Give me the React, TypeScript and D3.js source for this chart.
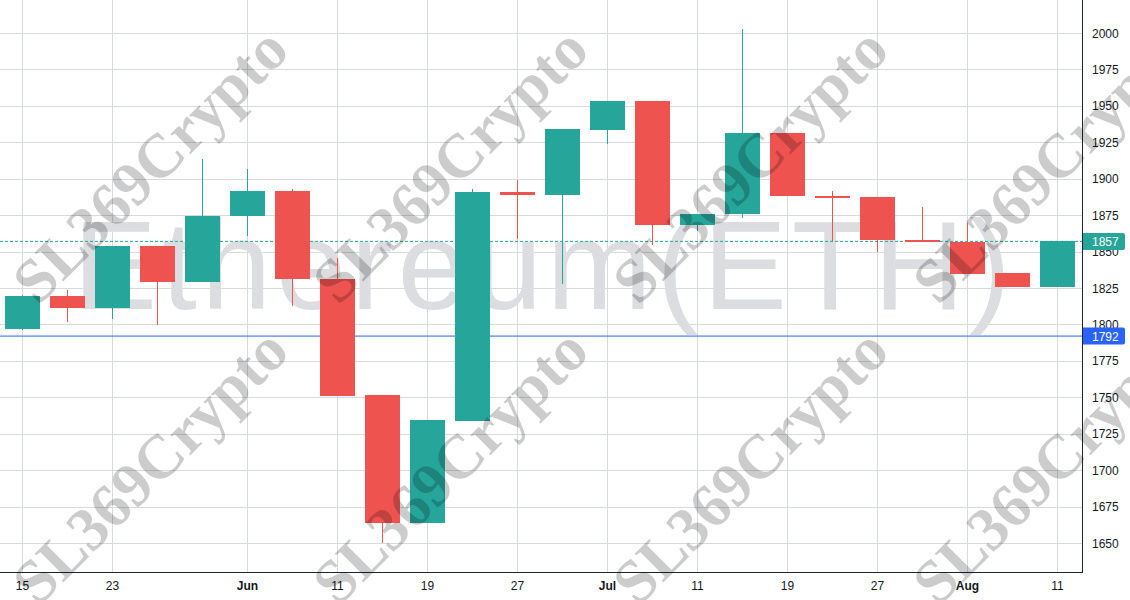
import React from "react";
import * as d3 from "d3";

const opens = [1797.1, 1819.5, 1811.5, 1853.8, 1829.3, 1874.4, 1891.6, 1831.4, 1751.5, 1663.7, 1734.0, 1890.9, 1889.0, 1933.4, 1953.3, 1868.2, 1875.8, 1931.4, 1888.3, 1887.4, 1858.1, 1856.8, 1835.0, 1825.9];
const highs = [1820.0, 1823.6, 1854.0, 1854.0, 1913.5, 1906.7, 1892.9, 1845.4, 1751.5, 1734.4, 1892.9, 1899.1, 1934.1, 1953.3, 1953.3, 1875.8, 2002.5, 1931.4, 1891.6, 1887.4, 1880.6, 1869.6, 1835.0, 1857.0];
const lows = [1796.0, 1801.9, 1803.7, 1799.8, 1829.3, 1860.7, 1812.8, 1751.1, 1649.8, 1663.7, 1734.0, 1858.6, 1827.9, 1924.0, 1854.7, 1864.3, 1872.8, 1888.3, 1857.4, 1849.9, 1856.8, 1834.8, 1825.9, 1825.9];
const closes = [1819.5, 1811.5, 1853.8, 1829.3, 1874.4, 1891.6, 1831.4, 1751.1, 1663.7, 1734.4, 1890.9, 1889.0, 1934.1, 1953.3, 1868.2, 1875.8, 1931.4, 1888.3, 1887.0, 1858.1, 1856.8, 1834.8, 1825.9, 1857.0];

const tickIndex = [0, 2, 5, 7, 9, 11, 13, 15, 17, 19, 21, 23];
const tickLabels = ["15", "23", "Jun", "11", "19", "27", "Jul", "11", "19", "27", "Aug", "11"];
const monthLabels = ["Jun", "Jul", "Aug"];
const yTicks = [1650, 1675, 1700, 1725, 1750, 1775, 1800, 1825, 1850, 1875, 1900, 1925, 1950, 1975, 2000];
const lastPrice = 1857;
const markerPrice = 1792;
const titleText = "Ethereum(ETH)";
const watermarkText = "SL369Crypto";
const wmCols = [150, 450, 750, 1050];
const wmRows = [165, 466];

const W = 1130;
const H = 600;
const PW = 1082;
const PH = 572;
const UP = "#26a69a";
const DOWN = "#ef5350";
const GRID = "#d8dbde";
const TEXT = "#131722";
const FONT = "'Liberation Sans', Arial, sans-serif";

export default function App() {
  const x = d3.scaleLinear().domain([0, 23]).range([22.5, 1057.5]);
  const y = d3.scaleLinear().domain([1630.1, 2022.65]).range([PH, 0]);
  const bw = 35;

  return (
    <svg width={W} height={H} style={{ position: "absolute", left: 0, top: 0, background: "#fff" }}>
      <rect x={0} y={0} width={W} height={H} fill="#fff" />
      <g shapeRendering="crispEdges">
        {yTicks.map((t) => (
          <line key={"h" + t} x1={0} x2={PW} y1={Math.round(y(t)) + 0.5} y2={Math.round(y(t)) + 0.5} stroke={GRID} />
        ))}
        {tickIndex.map((i) => (
          <line key={"v" + i} x1={Math.floor(x(i)) + 0.5} x2={Math.floor(x(i)) + 0.5} y1={0} y2={PH} stroke={GRID} />
        ))}
      </g>
      <text
        x={PW / 2 + 1}
        y={309}
        textAnchor="middle"
        fontFamily={FONT}
        fontSize={126}
        fill="#dcdde0"
        textLength={938}
        lengthAdjust="spacing"
      >
        {titleText}
      </text>
      <line x1={0} x2={PW} y1={y(lastPrice)} y2={y(lastPrice)} stroke={UP} strokeDasharray="3 2" />
      <line x1={0} x2={PW} y1={y(markerPrice)} y2={y(markerPrice)} stroke="#2962ff" />
      <g shapeRendering="crispEdges">
        {opens.map((o, i) => {
          const c = closes[i];
          const col = c >= o ? UP : DOWN;
          const cx = Math.floor(x(i));
          const top = y(Math.max(o, c));
          const bot = y(Math.min(o, c));
          return (
            <g key={i}>
              <rect x={cx} y={y(highs[i])} width={1} height={Math.max(0, y(lows[i]) - y(highs[i]))} fill={col} />
              <rect x={x(i) - bw / 2} y={top} width={bw} height={Math.max(2.5, bot - top)} fill={col} />
            </g>
          );
        })}
      </g>
      <line x1={PW + 0.5} x2={PW + 0.5} y1={0} y2={PH} stroke="#1e2233" shapeRendering="crispEdges" />
      <line x1={0} x2={PW + 0.5} y1={PH + 0.5} y2={PH + 0.5} stroke="#1e2233" shapeRendering="crispEdges" />
      {yTicks.map((t) => (
        <text key={"yl" + t} x={1092} y={y(t) + 4.5} fontFamily={FONT} fontSize={12} fill={TEXT}>
          {t}
        </text>
      ))}
      {tickIndex.map((i, k) => (
        <text
          key={"xl" + k}
          x={x(i)}
          y={590}
          textAnchor="middle"
          fontFamily={FONT}
          fontSize={12}
          fontWeight={monthLabels.includes(tickLabels[k]) ? "bold" : "normal"}
          fill={TEXT}
        >
          {tickLabels[k]}
        </text>
      ))}
      <g>
        <path
          d={`M${PW + 1},${y(lastPrice) - 8.5} H${1123} a2,2 0 0 1 2,2 V${y(lastPrice) + 6.5} a2,2 0 0 1 -2,2 H${PW + 1} Z`}
          fill={UP}
        />
        <text x={1092} y={y(lastPrice) + 4.5} fontFamily={FONT} fontSize={12} fill="#fff">
          {lastPrice}
        </text>
        <path
          d={`M${PW + 1},${y(markerPrice) - 8.5} H${1123} a2,2 0 0 1 2,2 V${y(markerPrice) + 6.5} a2,2 0 0 1 -2,2 H${PW + 1} Z`}
          fill="#2962ff"
        />
        <text x={1092} y={y(markerPrice) + 4.5} fontFamily={FONT} fontSize={12} fill="#fff">
          {markerPrice}
        </text>
      </g>
      <g>
        {wmRows.map((ry) =>
          wmCols.map((cx) => (
            <text
              key={`${cx}-${ry}`}
              transform={`translate(${cx},${ry}) rotate(-45)`}
              textAnchor="middle"
              dominantBaseline="central"
              fontFamily="'Liberation Serif', 'Times New Roman', serif"
              fontWeight="bold"
              fontSize={62}
              fill="#000"
              fillOpacity={0.2}
            >
              {watermarkText}
            </text>
          ))
        )}
      </g>
    </svg>
  );
}
